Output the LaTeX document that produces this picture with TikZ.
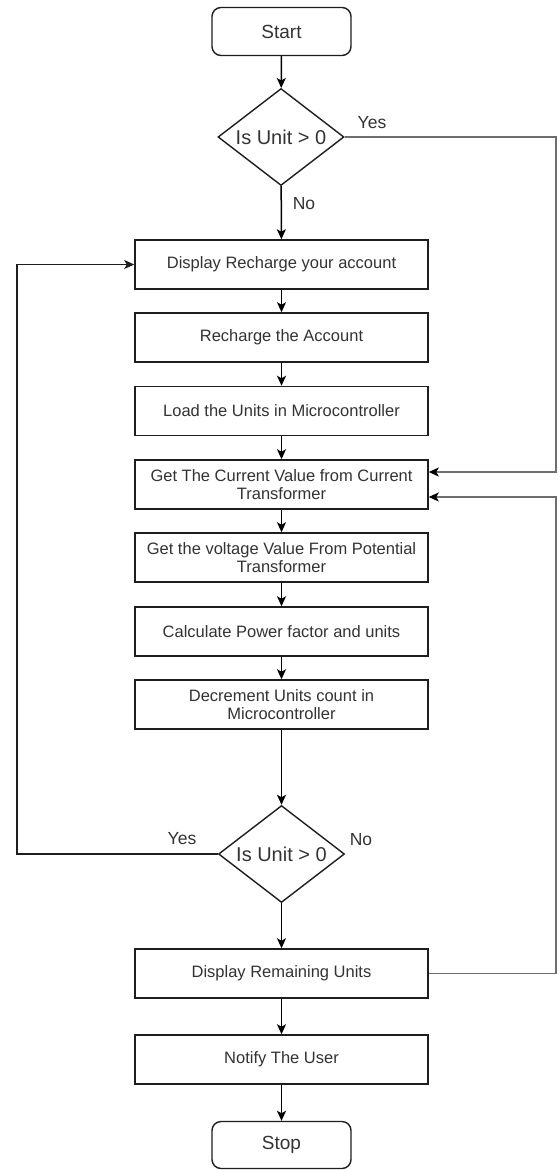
\documentclass[tikz,border=0pt]{standalone}
\usepackage{fontspec}
\setmainfont{Liberation Sans}
\usetikzlibrary{shapes.geometric,arrows.meta}
\definecolor{txt}{HTML}{333333}
\definecolor{edge}{HTML}{1e1e1e}
\definecolor{longline}{HTML}{6e6e6e}
\tikzset{
  procbox/.style={draw=edge,line width=1.5pt,rectangle,minimum width=293pt,minimum height=49pt,inner sep=0pt,align=center,text=txt,font=\fontsize{16.5}{17.5}\selectfont},
  termbox/.style={draw=edge,line width=1.4pt,rectangle,rounded corners=9pt,minimum width=139pt,minimum height=48pt,inner sep=0pt,text=txt,font=\fontsize{19}{20}\selectfont},
  decbox/.style={draw=edge,line width=1.4pt,diamond,shape aspect=1.3,minimum width=126pt,minimum height=97pt,inner sep=0pt,text=txt,font=\fontsize{20}{21}\selectfont},
  lbl/.style={text=txt,inner sep=0pt,font=\fontsize{17.5}{19}\selectfont},
  arr/.style={draw=black,line width=1.5pt,-{Stealth[length=10pt,width=9pt,inset=2.5pt]}},
  grayarr/.style={draw=longline,line width=1.4pt,-{Stealth[length=10pt,width=9pt,inset=2.5pt,color=black]}}
}
\begin{document}
\begin{tikzpicture}[x=1pt,y=-1pt]
\useasboundingbox[fill=white] (0,0) rectangle (558,1170);
\node[termbox] (start) at (281.5,31.5) {Start};
\node[decbox] (d1) at (281,137) {Is Unit > 0};
\node[procbox] (b1) at (281.5,264.5) {Display Recharge your account};
\node[procbox] (b2) at (281.5,337.5) {Recharge the Account};
\node[procbox] (b3) at (281.5,411) {Load the Units in Microcontroller};
\node[procbox] (b4) at (281.5,484.5) {Get The Current Value from Current\\Transformer};
\node[procbox] (b5) at (281.5,557.5) {Get the voltage Value From Potential\\Transformer};
\node[procbox] (b6) at (281.5,631.5) {Calculate Power factor and units};
\node[procbox] (b7) at (281.5,704.5) {Decrement Units count in\\Microcontroller};
\node[decbox] (d2) at (281.5,854) {Is Unit > 0};
\node[procbox] (b8) at (281.5,973.5) {Display Remaining Units};
\node[procbox] (b9) at (281.5,1059.5) {Notify The User};
\node[termbox,minimum height=47pt] (stop) at (281.5,1145) {Stop};

\node[lbl] (yes1) at (372,123) {Yes};
\node[lbl] (no1) at (304,204) {No};
\node[lbl] (yes2) at (182,839) {Yes};
\node[lbl] (no2) at (361,840) {No};

\coordinate (R1) at (556,137);
\coordinate (R2) at (556,973.5);
\coordinate (L) at (17,854);

\draw[arr] (start) -- (d1);
\draw[arr] (d1) -- (b1);
\draw[arr] (b1) -- (b2);
\draw[arr] (b2) -- (b3);
\draw[arr] (b3) -- (b4);
\draw[arr] (b4) -- (b5);
\draw[arr] (b5) -- (b6);
\draw[arr] (b6) -- (b7);
\draw[arr] (b7) -- (d2);
\draw[arr] (d2) -- (b8);
\draw[arr] (b8) -- (b9);
\draw[arr] (b9) -- (stop);

\draw[grayarr] (d1.east) -- (R1) |- ([yshift=12.5pt]b4.east);
\draw[grayarr] (b8.east) -- (R2) |- ([yshift=-12.5pt]b4.east);
\draw[arr,draw=edge] (d2.west) -- (L) |- (b1.west);
\end{tikzpicture}
\end{document}
